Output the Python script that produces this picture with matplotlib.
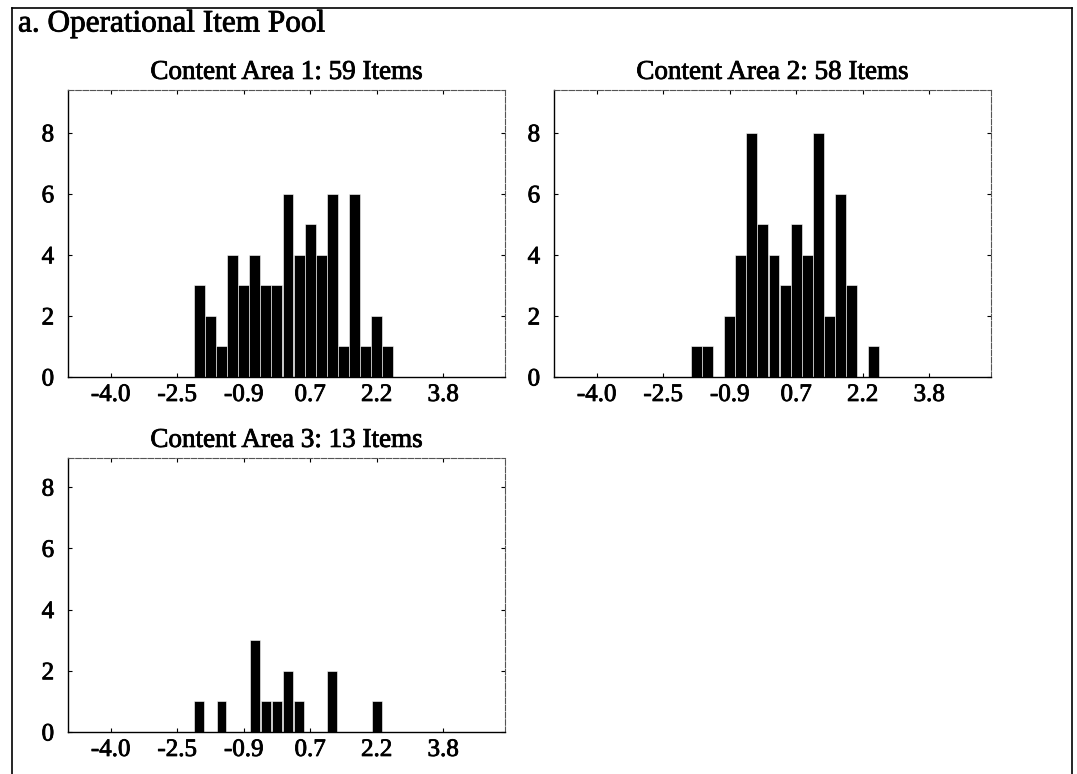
import matplotlib
matplotlib.use("Agg")
import matplotlib.pyplot as plt
import matplotlib.patheffects as pe
from matplotlib.lines import Line2D

plt.rcParams["font.family"] = ["Liberation Serif", "DejaVu Serif"]

# bin centres shared by all three histograms
bin_centres = [-1.92, -1.66, -1.40, -1.14, -0.88, -0.62, -0.36, -0.10, 0.16,
               0.42, 0.68, 0.94, 1.20, 1.46, 1.72, 1.98, 2.24, 2.50]

# item counts per bin
counts_area1 = [3, 2, 1, 4, 3, 4, 3, 3, 6, 4, 5, 4, 6, 1, 6, 1, 2, 1]
counts_area2 = [0, 1, 1, 0, 2, 4, 8, 5, 4, 3, 5, 4, 8, 2, 6, 3, 0, 1]
counts_area3 = [1, 0, 1, 0, 0, 3, 1, 1, 2, 1, 0, 0, 2, 0, 0, 0, 1, 0]

titles = ["Content Area 1: 59 Items", "Content Area 2: 58 Items", "Content Area 3: 13 Items"]
x_ticks = [-4.0, -2.44, -0.88, 0.68, 2.24, 3.8]
x_tick_labels = ["-4.0", "-2.5", "-0.9", "0.7", "2.2", "3.8"]
y_ticks = [0, 2, 4, 6, 8]

W, H = 1077, 774
fig = plt.figure(figsize=(W / 100, H / 100), dpi=100)
ink = [pe.withStroke(linewidth=0.6, foreground="black")]

# outer frame (top, left, right), no bottom line
fig.add_artist(Line2D([12 / W, 1072 / W], [1 - 8 / H, 1 - 8 / H], color="black", lw=1.2))
fig.add_artist(Line2D([12 / W, 12 / W], [0, 1 - 8 / H], color="black", lw=1.2))
fig.add_artist(Line2D([1072 / W, 1072 / W], [0, 1 - 8 / H], color="black", lw=1.2))
fig.text(18 / W, 1 - 24 / H, "a. Operational Item Pool", fontsize=22.5, va="center", ha="left",
         path_effects=ink)

# axes boxes in pixels: left, top, right, bottom, y top
boxes = [(68, 90, 505, 377, 9.4), (554, 90, 991, 377, 9.4), (68, 458, 505, 732, 8.95)]
counts = [counts_area1, counts_area2, counts_area3]
widths = [0.255, 0.255, 0.23]

for (l, t, r, b, ytop), c, title, w in zip(boxes, counts, titles, widths):
    ax = fig.add_axes([l / W, 1 - b / H, (r - l) / W, (b - t) / H])
    ax.bar(bin_centres, c, width=w, color="black", edgecolor="white", linewidth=0.4)
    ax.set_xlim(-5, 5.25)
    ax.set_ylim(0, ytop)
    ax.set_xticks(x_ticks)
    ax.set_xticklabels(x_tick_labels)
    ax.set_yticks(y_ticks)
    ax.tick_params(direction="in", length=3, width=0.8, labelsize=18, top=True, right=True,
                   colors="black")
    ax.tick_params(axis="x", pad=5)
    ax.tick_params(axis="y", pad=10)
    for lab in ax.get_xticklabels() + ax.get_yticklabels():
        lab.set_path_effects(ink)
    for side in ["left", "bottom"]:
        ax.spines[side].set_linewidth(1.0)
    for side in ["top", "right"]:
        ax.spines[side].set_linestyle((0, (5, 1.5)))
        ax.spines[side].set_linewidth(0.8)
        ax.spines[side].set_color("#555555")
    ax.set_title(title, fontsize=19.5, pad=8, path_effects=ink)

fig.savefig("out.png", dpi=100)
